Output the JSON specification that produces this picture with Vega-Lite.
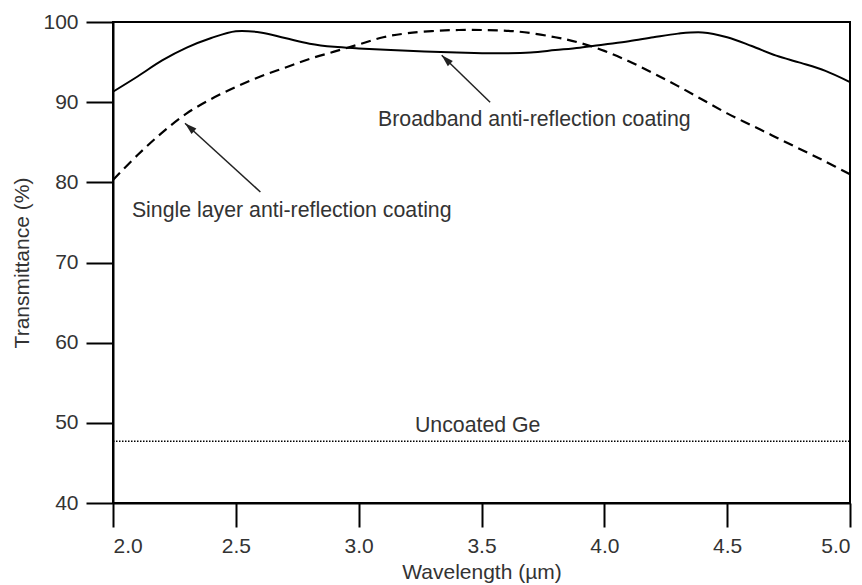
{
  "$schema": "https://vega.github.io/schema/vega-lite/v6.json",
  "width": 737,
  "height": 481,
  "autosize": "none",
  "padding": {"left": 113, "top": 22, "right": 12, "bottom": 82},
  "background": "white",
  "config": {
    "font": "Liberation Sans",
    "view": {"stroke": "black", "strokeWidth": 2},
    "axis": {
      "grid": false,
      "domainColor": "black",
      "domainWidth": 2,
      "tickColor": "black",
      "tickWidth": 2,
      "labelFont": "Liberation Sans",
      "labelFontSize": 21,
      "labelColor": "#333",
      "titleFont": "Liberation Sans",
      "titleFontSize": 21,
      "titleFontWeight": "normal",
      "titleColor": "#333"
    }
  },
  "datasets": {
    "broadband": [
      {"wl": 2.0, "t": 91.3}, {"wl": 2.1, "t": 93.2}, {"wl": 2.2, "t": 95.2}, {"wl": 2.3, "t": 96.8},
      {"wl": 2.4, "t": 98.0}, {"wl": 2.5, "t": 98.85}, {"wl": 2.6, "t": 98.7},
      {"wl": 2.7, "t": 98.0}, {"wl": 2.8, "t": 97.3}, {"wl": 2.9, "t": 96.9}, {"wl": 3.0, "t": 96.7},
      {"wl": 3.2, "t": 96.4}, {"wl": 3.4, "t": 96.2}, {"wl": 3.55, "t": 96.1}, {"wl": 3.7, "t": 96.2},
      {"wl": 3.8, "t": 96.5}, {"wl": 3.9, "t": 96.8}, {"wl": 4.0, "t": 97.2}, {"wl": 4.1, "t": 97.6},
      {"wl": 4.2, "t": 98.1}, {"wl": 4.3, "t": 98.55}, {"wl": 4.4, "t": 98.7},
      {"wl": 4.5, "t": 98.1}, {"wl": 4.6, "t": 97.0}, {"wl": 4.7, "t": 95.8}, {"wl": 4.8, "t": 94.9},
      {"wl": 4.9, "t": 93.9}, {"wl": 5.0, "t": 92.5}
    ],
    "single": [
      {"wl": 2.0, "t": 80.3}, {"wl": 2.1, "t": 83.4}, {"wl": 2.2, "t": 86.2}, {"wl": 2.3, "t": 88.6},
      {"wl": 2.4, "t": 90.4}, {"wl": 2.5, "t": 91.9}, {"wl": 2.6, "t": 93.2}, {"wl": 2.7, "t": 94.3},
      {"wl": 2.8, "t": 95.4}, {"wl": 2.9, "t": 96.3}, {"wl": 3.0, "t": 97.2}, {"wl": 3.1, "t": 98.1},
      {"wl": 3.2, "t": 98.6}, {"wl": 3.35, "t": 98.95}, {"wl": 3.5, "t": 99.0}, {"wl": 3.65, "t": 98.8},
      {"wl": 3.8, "t": 98.1}, {"wl": 3.9, "t": 97.4}, {"wl": 4.0, "t": 96.4}, {"wl": 4.1, "t": 95.1},
      {"wl": 4.2, "t": 93.6}, {"wl": 4.3, "t": 92.0}, {"wl": 4.4, "t": 90.3}, {"wl": 4.5, "t": 88.6},
      {"wl": 4.6, "t": 87.1}, {"wl": 4.7, "t": 85.6}, {"wl": 4.8, "t": 84.1}, {"wl": 4.9, "t": 82.6},
      {"wl": 5.0, "t": 81.0}
    ],
    "uncoated": [
      {"wl": 2.0, "t": 47.7}, {"wl": 5.0, "t": 47.7}
    ],
    "arrows": [
      {"x1": 3.535, "y1": 90.0, "x2": 3.338, "y2": 95.85, "angle": 314},
      {"x1": 2.60, "y1": 78.8, "x2": 2.293, "y2": 87.37, "angle": 311.5}
    ],
    "labels": [
      {"x": 3.079, "y": 86.99, "label": "Broadband anti-reflection coating"},
      {"x": 2.077, "y": 75.69, "label": "Single layer anti-reflection coating"},
      {"x": 3.229, "y": 48.85, "label": "Uncoated Ge"}
    ]
  },
  "layer": [
    {
      "data": {"name": "broadband"},
      "mark": {"type": "line", "color": "black", "strokeWidth": 2, "interpolate": "catmull-rom"},
      "encoding": {
        "x": {
          "field": "wl", "type": "quantitative",
          "scale": {"domain": [2, 5], "nice": false, "zero": false},
          "axis": {
            "title": "Wavelength (µm)",
            "values": [2.0, 2.5, 3.0, 3.5, 4.0, 4.5, 5.0],
            "format": ".1f",
            "tickSize": 24,
            "labelPadding": 8,
            "titlePadding": 5
          }
        },
        "y": {
          "field": "t", "type": "quantitative",
          "scale": {"domain": [40, 100], "nice": false, "zero": false},
          "axis": {
            "title": "Transmittance (%)",
            "values": [40, 50, 60, 70, 80, 90, 100],
            "tickSize": 27,
            "labelPadding": 8,
            "titlePadding": 10
          }
        }
      }
    },
    {
      "data": {"name": "single"},
      "mark": {"type": "line", "color": "black", "strokeWidth": 2.2, "strokeDash": [10, 6], "interpolate": "catmull-rom"},
      "encoding": {
        "x": {"field": "wl", "type": "quantitative"},
        "y": {"field": "t", "type": "quantitative"}
      }
    },
    {
      "data": {"name": "uncoated"},
      "mark": {"type": "line", "color": "black", "strokeWidth": 1.5, "strokeDash": [1.5, 1.5]},
      "encoding": {
        "x": {"field": "wl", "type": "quantitative"},
        "y": {"field": "t", "type": "quantitative"}
      }
    },
    {
      "data": {"name": "arrows"},
      "mark": {"type": "rule", "color": "#222", "strokeWidth": 1.5},
      "encoding": {
        "x": {"field": "x1", "type": "quantitative"},
        "y": {"field": "y1", "type": "quantitative"},
        "x2": {"field": "x2"},
        "y2": {"field": "y2"}
      }
    },
    {
      "data": {"name": "arrows"},
      "mark": {"type": "point", "shape": "M0,0L-0.3,1L0.3,1Z", "filled": true, "color": "#222", "opacity": 1, "size": 576},
      "encoding": {
        "x": {"field": "x2", "type": "quantitative"},
        "y": {"field": "y2", "type": "quantitative"},
        "angle": {"field": "angle", "type": "quantitative", "scale": null}
      }
    },
    {
      "data": {"name": "labels"},
      "mark": {"type": "text", "align": "left", "baseline": "alphabetic", "fontSize": 21.3, "color": "#333", "font": "Liberation Sans"},
      "encoding": {
        "x": {"field": "x", "type": "quantitative"},
        "y": {"field": "y", "type": "quantitative"},
        "text": {"field": "label"}
      }
    }
  ]
}
